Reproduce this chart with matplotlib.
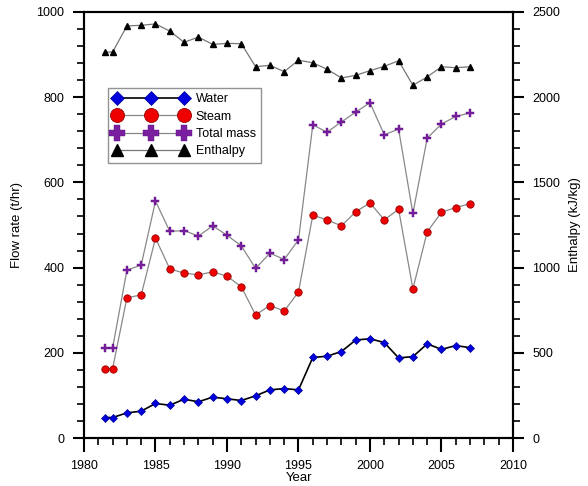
import matplotlib
matplotlib.use("Agg")
import matplotlib.pyplot as plt
from matplotlib.ticker import MultipleLocator

plt.rcParams['font.family'] = ['Liberation Sans', 'DejaVu Sans']

years = [1981.5, 1982, 1983, 1984, 1985, 1986, 1987, 1988, 1989, 1990,
         1991, 1992, 1993, 1994, 1995, 1996, 1997, 1998, 1999, 2000,
         2001, 2002, 2003, 2004, 2005, 2006, 2007]

water = [48, 48, 59, 63, 81, 77, 91, 85, 96, 92,
         88, 99, 113, 116, 113, 189, 192, 203, 230, 233,
         224, 188, 191, 221, 208, 217, 212]

steam = [163, 163, 329, 336, 469, 397, 387, 383, 390, 380,
         355, 289, 311, 298, 343, 523, 512, 498, 531, 552,
         512, 537, 350, 484, 530, 541, 550]

total = [211, 211, 394, 406, 556, 485, 487, 474, 498, 476,
         451, 398, 434, 419, 465, 735, 718, 742, 765, 787,
         712, 725, 527, 704, 737, 755, 763]

enthalpy = [2265, 2265, 2418, 2422, 2430, 2388, 2322, 2353, 2310, 2316,
            2314, 2179, 2187, 2150, 2217, 2202, 2164, 2113, 2128, 2156,
            2181, 2214, 2070, 2119, 2179, 2173, 2179]

fig = plt.figure(figsize=(5.88, 4.86), dpi=100)
ax = fig.add_axes([84/588, 48/486, 429/588, 426/486])
ax2 = ax.twinx()

l1, = ax.plot(years, water, color='black', lw=1.2, marker='D', ms=4,
              mfc='#0000dd', mec='#000099', mew=0.5, label='Water')
l2, = ax.plot(years, steam, color='#888888', lw=0.9, marker='o', ms=5.3,
              mfc='#ee0000', mec='#990000', mew=0.6, label='Steam')
l3, = ax.plot(years, total, color='#888888', lw=0.9, marker='P', ms=5.8,
              mfc='#7a1fa0', mec='#5a1080', mew=0.3, label='Total mass')
l4, = ax2.plot(years, enthalpy, color='#777777', lw=0.9, marker='^', ms=4.5,
               mfc='black', mec='black', label='Enthalpy')

ax.set_xlim(1980, 2010)
ax.set_ylim(0, 1000)
ax2.set_ylim(0, 2500)

ax.xaxis.set_major_locator(MultipleLocator(5))
ax.xaxis.set_minor_locator(MultipleLocator(1))
ax.yaxis.set_major_locator(MultipleLocator(200))
ax.yaxis.set_minor_locator(MultipleLocator(40))
ax2.yaxis.set_major_locator(MultipleLocator(500))
ax2.yaxis.set_minor_locator(MultipleLocator(100))

for a in (ax, ax2):
    for s in a.spines.values():
        s.set_linewidth(1.5)
    a.tick_params(which='major', direction='out', length=8, width=1.5, labelsize=9)
    a.tick_params(which='minor', direction='out', length=5, width=1.2)
ax.tick_params(axis='x', which='major', length=10, pad=6)
ax.tick_params(axis='y', which='major', pad=6)
ax2.tick_params(axis='y', which='major', pad=6)

ax.set_xlabel('Year', fontsize=9.5, labelpad=0)
ax.set_ylabel('Flow rate (t/hr)', fontsize=9.5, labelpad=10)
ax2.set_ylabel('Enthalpy (kJ/kg)', fontsize=9.5, labelpad=6)

leg = ax.legend([l1, l2, l3, l4], ['Water', 'Steam', 'Total mass', 'Enthalpy'],
                loc='upper left', bbox_to_anchor=(0.055, 0.822), numpoints=3,
                markerscale=1.9, fontsize=9, frameon=True, fancybox=False,
                handlelength=6.0, handletextpad=0.6, borderpad=0.45,
                labelspacing=0.42, borderaxespad=0, edgecolor='#777777')
leg.get_frame().set_linewidth(1.0)

fig.savefig('out.png', dpi=100)
